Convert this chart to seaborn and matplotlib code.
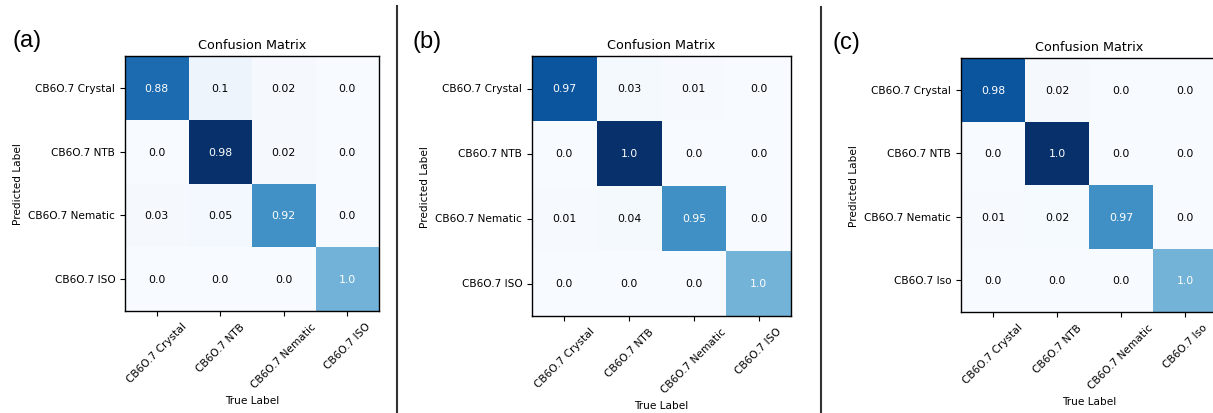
import numpy as np
import matplotlib
matplotlib.use("Agg")
import matplotlib.pyplot as plt
from matplotlib.lines import Line2D
import seaborn as sns

# ---------------- data ----------------
labels_ab = ["CB6O.7 Crystal", "CB6O.7 NTB", "CB6O.7 Nematic", "CB6O.7 ISO"]
labels_c = ["CB6O.7 Crystal", "CB6O.7 NTB", "CB6O.7 Nematic", "CB6O.7 Iso"]

# normalised values shown in the cells (rows = predicted, cols = true)
norm_a = [[0.88, 0.1, 0.02, 0.0],
          [0.0, 0.98, 0.02, 0.0],
          [0.03, 0.05, 0.92, 0.0],
          [0.0, 0.0, 0.0, 1.0]]
norm_b = [[0.97, 0.03, 0.01, 0.0],
          [0.0, 1.0, 0.0, 0.0],
          [0.01, 0.04, 0.95, 0.0],
          [0.0, 0.0, 0.0, 1.0]]
norm_c = [[0.98, 0.02, 0.0, 0.0],
          [0.0, 1.0, 0.0, 0.0],
          [0.01, 0.02, 0.97, 0.0],
          [0.0, 0.0, 0.0, 1.0]]

# sample counts (estimated from cell shading) which drive the colours
counts_a = [[189, 13, 3, 0],
            [0, 245, 3, 0],
            [3, 5, 154, 0],
            [0, 0, 0, 118]]
counts_b = [[206, 4, 1, 0],
            [0, 240, 0, 0],
            [1, 4, 151, 0],
            [0, 0, 0, 115]]
counts_c = [[206, 3, 0, 0],
            [0, 240, 0, 0],
            [1, 2, 151, 0],
            [0, 0, 0, 115]]

panel_tags = ["(a)", "(b)", "(c)"]

# ---------------- figure ----------------
W, H = 1213, 414
fig = plt.figure(figsize=(W / 100, H / 100), dpi=100)
fig.patch.set_facecolor("white")

rects_px = [(125, 57, 254, 255), (532, 57, 259, 260), (961, 59, 256, 254)]
tag_pos = [(13, 47), (412, 48), (833, 49)]

panels = [(norm_a, counts_a, labels_ab),
          (norm_b, counts_b, labels_ab),
          (norm_c, counts_c, labels_c)]

for (norm, counts, labels), (x, y, w, h), tag, (tx, ty) in zip(panels, rects_px, panel_tags, tag_pos):
    ax = fig.add_axes([x / W, 1 - (y + h) / H, w / W, h / H])
    cnt = np.array(counts, dtype=float)
    annot = np.array([[str(v) for v in row] for row in norm])
    sns.heatmap(cnt, annot=annot, fmt="", cmap="Blues", vmin=0, cbar=False,
                ax=ax, xticklabels=labels, yticklabels=labels,
                annot_kws={"fontsize": 7.8})
    thr = cnt.max() * 0.4
    for t, v in zip(ax.texts, cnt.flatten()):
        t.set_color("white" if v > thr else "black")
    for s in ax.spines.values():
        s.set_visible(True)
        s.set_color("black")
        s.set_linewidth(1.0)
    ax.tick_params(axis="both", length=3.5, width=0.8, color="black",
                   bottom=True, left=True, labelsize=7.6)
    ax.set_xticklabels(labels, rotation=45, ha="center")
    ax.set_yticklabels(labels, rotation=0, va="center")
    ax.set_title("Confusion Matrix", fontsize=9.2, pad=6)
    ax.set_xlabel("True Label", fontsize=7.6, labelpad=4)
    ax.set_ylabel("Predicted Label", fontsize=7.6, labelpad=4)
    fig.text(tx / W, 1 - ty / H, tag, fontsize=17, family="Liberation Sans",
             ha="left", va="baseline")

for sx, sy in [(397, 7), (821, 8)]:
    fig.add_artist(Line2D([sx / W, sx / W], [0, 1 - sy / H],
                          transform=fig.transFigure, color="#333333", lw=1.5))

fig.savefig("out.png", dpi=100, facecolor="white")
